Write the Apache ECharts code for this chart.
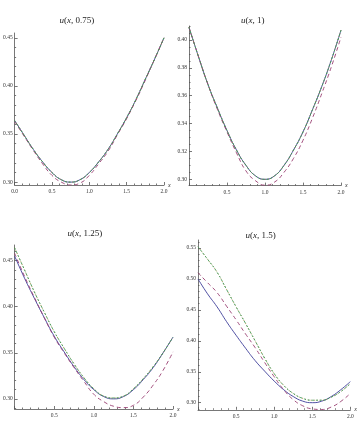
<!DOCTYPE html>
<html>
<head>
<meta charset="utf-8">
<script src="https://cdn.jsdelivr.net/npm/echarts@6/dist/echarts.min.js"></script>
<style>
  html, body { margin: 0; padding: 0; background: #fff; }
  #chart { width: 358px; height: 423px; }
</style>
</head>
<body>
<div id="chart"></div>
<script>
// x 取样点（四个小图共用）
const xVals = [0, 0.125, 0.25, 0.375, 0.5, 0.625, 0.75, 0.875, 1, 1.125, 1.25, 1.375, 1.5, 1.625, 1.75, 1.875, 2]

// u(x, 0.75)
const exact075 = [0.364, 0.349, 0.334, 0.321, 0.310, 0.3025, 0.300, 0.3025, 0.310, 0.321, 0.334, 0.350, 0.367, 0.386, 0.407, 0.428, 0.450]
const dashA075 = [0.363, 0.348, 0.333, 0.319, 0.307, 0.300, 0.297, 0.299, 0.307, 0.319, 0.332, 0.349, 0.366, 0.385, 0.406, 0.428, 0.450]
const dashB075 = [0.364, 0.349, 0.334, 0.321, 0.310, 0.3025, 0.300, 0.3025, 0.310, 0.321, 0.334, 0.350, 0.367, 0.386, 0.407, 0.428, 0.450]

// u(x, 1)
const exact1 = [0.409, 0.388, 0.368, 0.351, 0.335, 0.321, 0.310, 0.3025, 0.300, 0.3025, 0.310, 0.321, 0.334, 0.350, 0.367, 0.386, 0.407]
const dashA1 = [0.409, 0.388, 0.368, 0.350, 0.334, 0.319, 0.306, 0.299, 0.2958, 0.298, 0.305, 0.315, 0.328, 0.344, 0.362, 0.381, 0.402]
const dashB1 = [0.409, 0.388, 0.368, 0.351, 0.335, 0.321, 0.310, 0.3025, 0.300, 0.3025, 0.310, 0.321, 0.334, 0.350, 0.367, 0.386, 0.407]

// u(x, 1.25)
const exact125 = [0.455, 0.431, 0.409, 0.388, 0.368, 0.351, 0.335, 0.321, 0.310, 0.3025, 0.300, 0.3025, 0.310, 0.321, 0.334, 0.350, 0.367]
const dashA125 = [0.458, 0.433, 0.410, 0.388, 0.367, 0.350, 0.334, 0.319, 0.305, 0.297, 0.292, 0.2905, 0.293, 0.302, 0.315, 0.331, 0.351]
const dashB125 = [0.464, 0.440, 0.416, 0.394, 0.373, 0.355, 0.338, 0.323, 0.311, 0.303, 0.301, 0.303, 0.311, 0.322, 0.335, 0.350, 0.367]

// u(x, 1.5)
const exact15 = [0.500, 0.476, 0.455, 0.431, 0.409, 0.388, 0.368, 0.351, 0.335, 0.321, 0.310, 0.3025, 0.300, 0.3025, 0.310, 0.321, 0.334]
const dashA15 = [0.510, 0.494, 0.478, 0.456, 0.434, 0.411, 0.389, 0.365, 0.342, 0.321, 0.305, 0.295, 0.290, 0.289, 0.293, 0.302, 0.315]
const dashB15 = [0.552, 0.532, 0.511, 0.483, 0.455, 0.428, 0.400, 0.372, 0.347, 0.328, 0.315, 0.307, 0.304, 0.304, 0.309, 0.318, 0.331]

// 刻度标签
const xTickLabels = [0, 0.5, 1, 1.5, 2]
const yTicks075 = [0.30, 0.35, 0.40, 0.45]
const yTicks1 = [0.30, 0.32, 0.34, 0.36, 0.38, 0.40]
const yTicks125 = [0.30, 0.35, 0.40, 0.45]
const yTicks15 = [0.30, 0.35, 0.40, 0.45, 0.50, 0.55]

const colors = {
  exact: '#3d3d99',
  dashA: '#993d71',
  dotted: '#998b3d',
  dashB: '#3d9956'
}

const panels = [
  { t: '0.75', grid: { left: 11.7, right: 194, top: 33, bottom: 238 }, yMin: 0.297, yMax: 0.455,
    yTicks: yTicks075, minor: 0.01, showZero: true, titlePos: [59.5, 16], exact: exact075, dashA: dashA075, dashB: dashB075 },
  { t: '1', grid: { left: 189, right: 17, top: 26, bottom: 237.4 }, yMin: 0.2955, yMax: 0.41,
    yTicks: yTicks1, minor: 0.005, showZero: false, titlePos: [241, 16], exact: exact1, dashA: dashA1, dashB: dashB1 },
  { t: '1.25', grid: { left: 12.7, right: 185, top: 245, bottom: 14 }, yMin: 0.289, yMax: 0.467,
    yTicks: yTicks125, minor: 0.01, showZero: false, titlePos: [67.5, 229], exact: exact125, dashA: dashA125, dashB: dashB125 },
  { t: '1.5', grid: { left: 198, right: 2, top: 240, bottom: 13.2 }, yMin: 0.2885, yMax: 0.563,
    yTicks: yTicks15, minor: 0.01, showZero: false, titlePos: [245.5, 231], exact: exact15, dashA: dashA15, dashB: dashB15 }
]

const labelFont = { fontFamily: 'Liberation Serif', fontSize: 5.5, color: '#333' }
const axisLineStyle = { color: '#555', width: 0.8 }

// 小刻度
const minorValues = (p) => {
  const out = []
  const n0 = Math.ceil(p.yMin / p.minor - 1e-6)
  const n1 = Math.floor(p.yMax / p.minor + 1e-6)
  for (let n = n0; n <= n1; n++) {
    const v = +(n * p.minor).toFixed(4)
    if (!p.yTicks.some(t => Math.abs(t - v) < 1e-6)) out.push(v)
  }
  return out
}

const pair = (arr) => arr.map((y, i) => [xVals[i], y])

const option = {
  animation: false,
  title: [],
  grid: [],
  xAxis: [],
  yAxis: [],
  series: []
}

panels.forEach((p, gi) => {
  option.title.push({
    text: '{i|u}({i|x}, ' + p.t + ')',
    left: p.titlePos[0],
    top: p.titlePos[1],
    padding: 0,
    textStyle: {
      fontFamily: 'Liberation Serif', fontSize: 9, fontWeight: 'normal', color: '#222',
      rich: { i: { fontFamily: 'Liberation Serif', fontSize: 9, fontStyle: 'italic', color: '#222' } }
    }
  })
  option.grid.push(p.grid)

  option.xAxis.push({
    type: 'value', gridIndex: gi, min: 0, max: 2, interval: 0.5,
    name: 'x', nameLocation: 'end', nameGap: 4,
    nameTextStyle: { fontFamily: 'Liberation Serif', fontStyle: 'italic', fontSize: 6, color: '#333' },
    axisLine: { onZero: false, lineStyle: axisLineStyle },
    axisTick: { inside: true, length: 3, lineStyle: axisLineStyle },
    minorTick: { show: true, splitNumber: 5, length: 1.5, lineStyle: axisLineStyle },
    axisLabel: { ...labelFont, margin: 4, showMinLabel: p.showZero,
      customValues: xTickLabels, formatter: v => v.toFixed(1) },
    splitLine: { show: false }
  })

  // 主刻度 + 标签
  option.yAxis.push({
    type: 'value', gridIndex: gi, position: 'left', min: p.yMin, max: p.yMax,
    axisLine: { onZero: false, lineStyle: axisLineStyle },
    axisTick: { inside: true, length: 3, lineStyle: axisLineStyle, customValues: p.yTicks },
    axisLabel: { ...labelFont, margin: 2, customValues: p.yTicks, formatter: v => v.toFixed(2) },
    splitLine: { show: false }
  })
  // 小刻度
  option.yAxis.push({
    type: 'value', gridIndex: gi, position: 'left', min: p.yMin, max: p.yMax,
    axisLine: { show: false, onZero: false },
    axisTick: { inside: true, length: 1.5, lineStyle: axisLineStyle, customValues: minorValues(p) },
    axisLabel: { show: false },
    splitLine: { show: false }
  })

  const yIdx = gi * 2
  const base = { type: 'line', xAxisIndex: gi, yAxisIndex: yIdx, showSymbol: false, symbol: 'none', smooth: true }
  option.series.push(
    { ...base, data: pair(p.exact), lineStyle: { color: colors.exact, width: 0.9 } },
    { ...base, data: pair(p.dashA), lineStyle: { color: colors.dashA, width: 0.9, type: [4, 3] } },
    { ...base, data: pair(p.dashB), lineStyle: { color: colors.dotted, width: 0.9, type: [1, 2] } },
    { ...base, data: pair(p.dashB), lineStyle: { color: colors.dashB, width: 0.9, type: [2, 2] } }
  )
})

const chart = echarts.init(document.getElementById('chart'))
chart.setOption(option)
</script>
</body>
</html>
